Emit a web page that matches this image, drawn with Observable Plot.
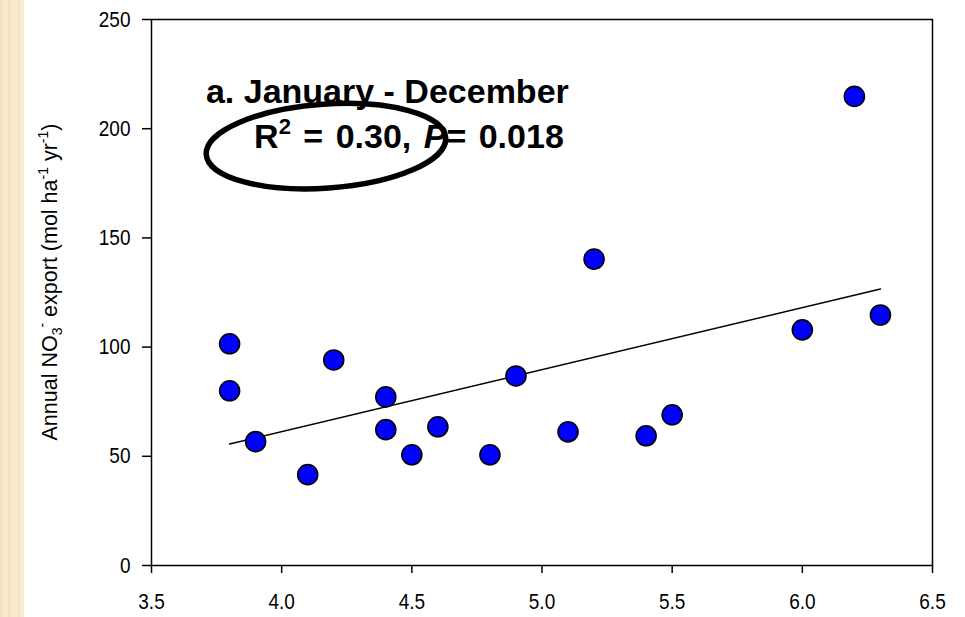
<!DOCTYPE html>
<html>
<head>
<meta charset="utf-8">
<script src="https://cdn.jsdelivr.net/npm/d3@7"></script>
<script src="https://cdn.jsdelivr.net/npm/@observablehq/plot@0.6"></script>
<style>
  html, body { margin: 0; padding: 0; }
  body {
    width: 965px; height: 617px; overflow: hidden;
    background:
      linear-gradient(to right, rgba(240,210,160,0.35) 0 3px, transparent 3px 8px, rgba(240,205,150,0.3) 8px 11px, transparent 11px 17px, rgba(238,208,158,0.3) 17px 20px, transparent 20px),
      linear-gradient(to right, #f9ebd2 0 24px, #ffffff 24px);
    font-family: "Liberation Sans", Arial, sans-serif;
  }
  #chart svg { display: block; }
</style>
</head>
<body>
<div id="chart"></div>
<script>
// ---- data ----
const phValues   = [3.8, 3.8, 3.9, 4.1, 4.2, 4.4, 4.4, 4.5, 4.6, 4.8, 4.9, 5.1, 5.2, 5.4, 5.5, 6.0, 6.2, 6.3];
const no3Export  = [101.5, 80, 56.7, 41.6, 94.1, 77.2, 62.2, 50.7, 63.5, 50.7, 86.8, 61.2, 140.3, 59.4, 69, 107.9, 214.8, 114.7];
const xTicks = [3.5, 4.0, 4.5, 5.0, 5.5, 6.0, 6.5];
const yTicks = [0, 50, 100, 150, 200, 250];
const panelTitle = "a. January - December";
const r2Text = "0.30";
const pText = "0.018";

const data = phValues.map((x, i) => ({x, y: no3Export[i]}));

// annotation anchors (data units)
const titleAnchor = {x: 3.711, y: 211.5};
const statAnchor = {x: 3.896, y: 190.9};
const ellipseCenter = {x: 4.172, y: 191.8};

const FONT = "'Liberation Sans', Arial, sans-serif";

function annotations(index, scales, values, dimensions) {
  const g = d3.create("svg:g").attr("class", "anno").attr("font-family", FONT).attr("fill", "black").attr("text-anchor", "start");
  g.append("text")
    .attr("x", scales.x(titleAnchor.x)).attr("y", scales.y(titleAnchor.y))
    .attr("text-anchor", "start")
    .style("font-size", "34px").attr("font-weight", "bold")
    .text(panelTitle);
  const t = g.append("text")
    .attr("x", scales.x(statAnchor.x)).attr("y", scales.y(statAnchor.y))
    .attr("text-anchor", "start")
    .style("font-size", "34px").style("word-spacing", "3px").attr("font-weight", "bold");
  t.append("tspan").text("R");
  t.append("tspan").attr("dy", -14).style("font-size", "22px").text("2");
  t.append("tspan").attr("dy", 14).text(" = " + r2Text + ", ");
  t.append("tspan").attr("font-style", "italic").text("P");
  t.append("tspan").text("= " + pText);
  const cx = scales.x(ellipseCenter.x), cy = scales.y(ellipseCenter.y);
  g.append("ellipse")
    .attr("cx", cx).attr("cy", cy).attr("rx", 120).attr("ry", 42)
    .attr("transform", `rotate(-4 ${cx} ${cy})`)
    .attr("fill", "none").attr("stroke", "black").attr("stroke-width", 5.5);
  return g.node();
}

function yTitle(index, scales, values, dimensions) {
  const cy = (dimensions.marginTop + dimensions.height - dimensions.marginBottom) / 2;
  const g = d3.create("svg:g").attr("class", "anno").attr("transform", `translate(57,${cy - 10}) rotate(-90)`);
  const t = g.append("text").attr("text-anchor", "middle").attr("font-family", FONT)
    .style("font-size", "21.5px").attr("fill", "black");
  t.append("tspan").text("Annual NO");
  t.append("tspan").attr("dy", 5).style("font-size", "14px").text("3");
  t.append("tspan").attr("dy", -15).style("font-size", "14px").text("-");
  t.append("tspan").attr("dy", 10).text(" export (mol ha");
  t.append("tspan").attr("dy", -9).style("font-size", "14px").text("-1");
  t.append("tspan").attr("dy", 9).text(" yr");
  t.append("tspan").attr("dy", -9).style("font-size", "14px").text("-1");
  t.append("tspan").attr("dy", 9).text(")");
  return g.node();
}

const chart = Plot.plot({
  width: 965,
  height: 617,
  marginLeft: 151,
  marginRight: 33,
  marginTop: 19,
  marginBottom: 52,
  style: {background: "transparent", color: "black", fontFamily: FONT, fontSize: "19px"},
  x: {domain: [3.5, 6.5]},
  y: {domain: [0, 250]},
  marks: [
    Plot.axisY({ticks: yTicks, tickSize: 9, tickPadding: 12, label: null, strokeWidth: 1.5}),
    Plot.axisX({ticks: xTicks, tickSize: 8, tickPadding: 20, tickFormat: d => d.toFixed(1), label: null, strokeWidth: 1.5}),
    Plot.frame({stroke: "black", strokeWidth: 1.5}),
    Plot.linearRegressionY(data, {x: "x", y: "y", ci: 0, stroke: "black", strokeWidth: 1.5}),
    Plot.dot(data, {x: "x", y: "y", r: 10, fill: "#0000ff", stroke: "black", strokeWidth: 1.6}),
    annotations,
    yTitle
  ]
});
// tick labels: taller look like the reference (append a vertical scale to Plot's own transform)
d3.select(chart).selectAll("text").filter(function() { return !this.closest(".anno"); })
  .style("font-size", "19px")
  .attr("transform", function() {
    const tr = this.getAttribute("transform") || "";
    return (tr + " scale(1,1.18)").trim();
  });
document.getElementById("chart").appendChild(chart);
</script>
</body>
</html>
